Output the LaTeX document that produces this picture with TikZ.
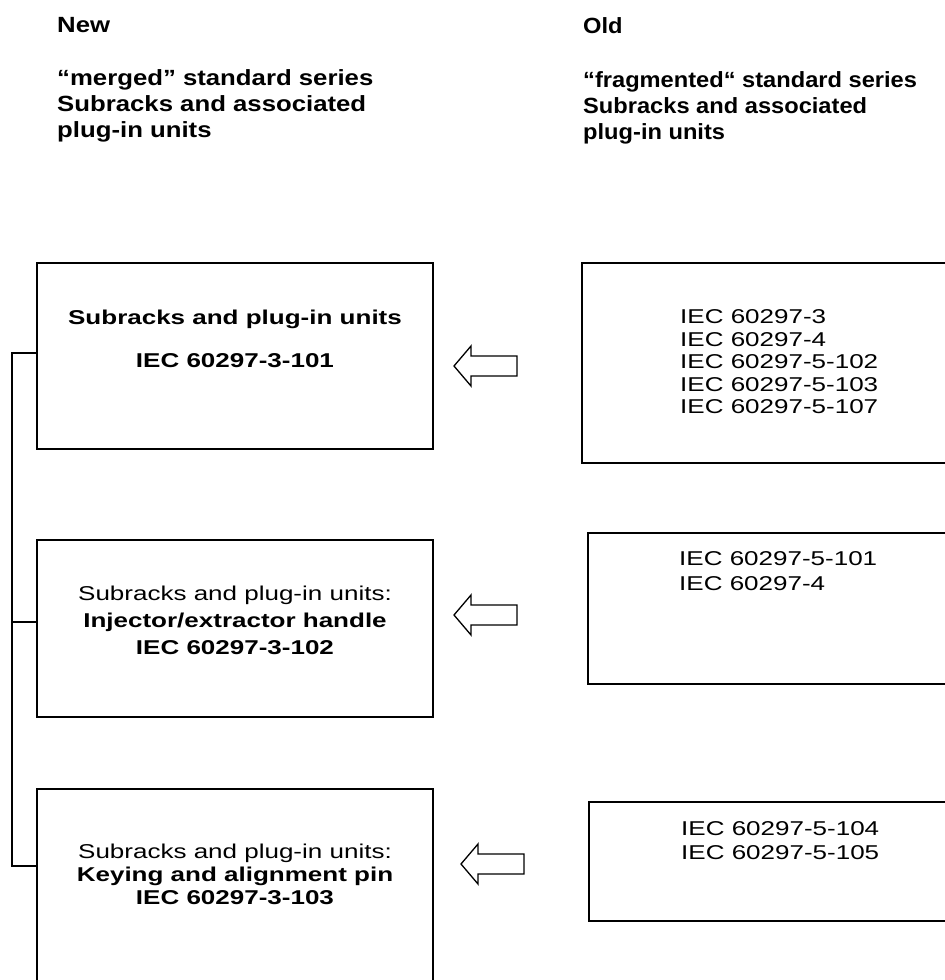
\documentclass[tikz,border=0pt]{standalone}
\usepackage{fontspec}
\setmainfont{Liberation Sans}
\newfontfamily\boxfont{Liberation Sans}[FakeStretch=1.3]
\newfontfamily\headfont{Liberation Sans}[FakeStretch=1.17]
\newfontfamily\headfontr{Liberation Sans}[FakeStretch=1.075]
\begin{document}
\begin{tikzpicture}[x=1pt,y=-1pt,
  frame/.style={draw=black,line width=1.8pt,rectangle,inner sep=0pt},
  head/.style={inner sep=0pt,anchor=base west,font=\headfont\bfseries\fontsize{22}{26}\selectfont},
  headr/.style={inner sep=0pt,anchor=base west,font=\headfontr\bfseries\fontsize{22}{26}\selectfont},
  btxt/.style={inner sep=0pt,anchor=base,font=\boxfont\fontsize{20}{24}\selectfont},
  rtxt/.style={inner sep=0pt,anchor=base west,font=\boxfont\fontsize{20}{24}\selectfont},
  blockarrow/.style={draw=black,line width=1.3pt,fill=white,line join=miter},
  conn/.style={draw=black,line width=1.3pt}]
\useasboundingbox (0,0) rectangle (945,980);
\clip (0,0) rectangle (945,980);
% headers
\node[head] (hn) at (57,32) {New};
\node[head] (hn1) at (57,85) {“merged” standard series};
\node[head] (hn2) at (57,111) {Subracks and associated};
\node[head] (hn3) at (57,137) {plug-in units};
\node[headr] (ho) at (583,33) {Old};
\node[headr] (ho1) at (583,87) {“fragmented“ standard series};
\node[headr] (ho2) at (583,113) {Subracks and associated};
\node[headr] (ho3) at (583,139) {plug-in units};
% left boxes
\node[frame,minimum width=396pt,minimum height=186pt] (L1) at (235,356) {};
\node[frame,minimum width=396pt,minimum height=177pt] (L2) at (235,628.5) {};
\node[frame,minimum width=396pt,minimum height=211pt] (L3) at (235,894.5) {};
% right boxes
\node[frame,minimum width=378pt,minimum height=200pt] (R1) at (771,363) {};
\node[frame,minimum width=372pt,minimum height=151pt] (R2) at (774,608.5) {};
\node[frame,minimum width=371pt,minimum height=119pt] (R3) at (774.5,861.5) {};
% left texts
\node[btxt] (t11) at (235,324) {\bfseries Subracks and plug-in units};
\node[btxt] (t12) at (235,367) {\bfseries IEC 60297-3-101};
\node[btxt] (t21) at (235,600) {Subracks and plug-in units:};
\node[btxt] (t22) at (235,627) {\bfseries Injector/extractor handle};
\node[btxt] (t23) at (235,654) {\bfseries IEC 60297-3-102};
\node[btxt] (t31) at (235,858) {Subracks and plug-in units:};
\node[btxt] (t32) at (235,881) {\bfseries Keying and alignment pin};
\node[btxt] (t33) at (235,904) {\bfseries IEC 60297-3-103};
% right texts
\node[rtxt] (r11) at (680,323) {IEC 60297-3};
\node[rtxt] (r12) at (680,346) {IEC 60297-4};
\node[rtxt] (r13) at (680,368) {IEC 60297-5-102};
\node[rtxt] (r14) at (680,391) {IEC 60297-5-103};
\node[rtxt] (r15) at (680,413) {IEC 60297-5-107};
\node[rtxt] (r21) at (679,565) {IEC 60297-5-101};
\node[rtxt] (r22) at (679,590) {IEC 60297-4};
\node[rtxt] (r31) at (681,835) {IEC 60297-5-104};
\node[rtxt] (r32) at (681,859) {IEC 60297-5-105};
% block arrows
\coordinate (a1) at (454,366);
\coordinate (a2) at (454,615);
\coordinate (a3) at (461,864);
\foreach \a in {a1,a2,a3}
  \draw[blockarrow] (\a) -- ++(17,-20) -- ++(0,10) -- ++(46,0) -- ++(0,20) -- ++(-46,0) -- ++(0,10) -- cycle;
% connector
\coordinate (c1) at (12,353);
\coordinate (c2) at (12,622);
\coordinate (c3) at (12,866);
\draw[conn] (L1.west |- c1) -- (c1) -- (c3) -- (L3.west |- c3);
\draw[conn] (c2) -- (L2.west |- c2);
\end{tikzpicture}
\end{document}
